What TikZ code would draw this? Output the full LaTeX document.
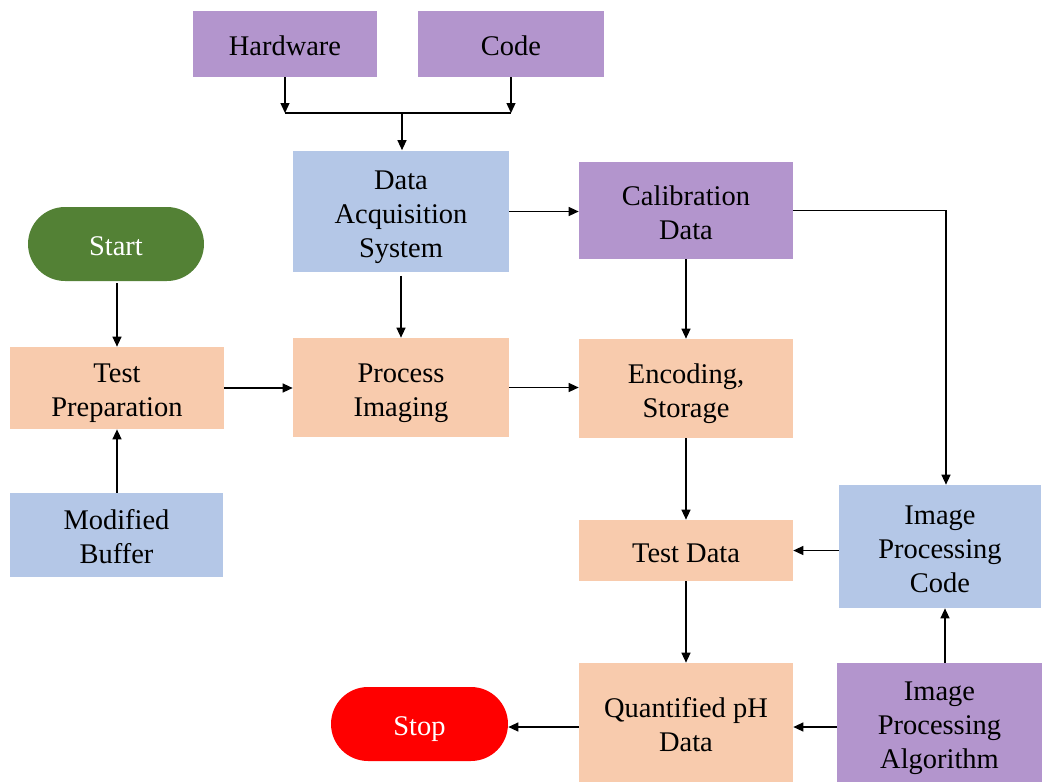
\documentclass[tikz,border=0pt]{standalone}
\usepackage{fontspec}
\setmainfont{Liberation Serif}
\usetikzlibrary{arrows.meta,calc}
\definecolor{boxpurple}{RGB}{179,149,205}
\definecolor{boxblue}{RGB}{180,199,231}
\definecolor{boxorange}{RGB}{248,203,173}
\definecolor{startgreen}{RGB}{83,129,53}
\definecolor{stopred}{RGB}{255,0,0}
% struts giving every label the same ascent and descent
\newcommand\boxtext[1]{\rule{0pt}{17.4pt}#1\rule[-4pt]{0pt}{4pt}}
\tikzset{
  base/.style={rectangle, inner sep=0pt, align=center, text=black,
    font=\fontsize{16.2}{19.3}\selectfont},
  purplebox/.style={base, fill=boxpurple},
  bluebox/.style={base, fill=boxblue},
  orangebox/.style={base, fill=boxorange},
  terminal/.style={base, rounded corners=0.74cm, text=white},
  arr/.style={draw=black, line width=0.75pt,
    -{Triangle[length=0.2cm,width=0.18cm]}},
  ln/.style={draw=black, line width=0.75pt}
}
\begin{document}
\begin{tikzpicture}[x=0.02cm,y=-0.02cm]
\useasboundingbox (0,0) rectangle (1042,782);

% inputs to the acquisition system
\node[purplebox, minimum width=3.68cm, minimum height=1.32cm] (hw) at (285,44) {\boxtext{Hardware}};
\node[purplebox, minimum width=3.72cm, minimum height=1.32cm] (code) at (511,44) {\boxtext{Code}};
\node[bluebox, minimum width=4.32cm, minimum height=2.44cm] (das) at (401,211.5) {\boxtext{Data\\Acquisition\\System}};

% left column
\node[terminal, fill=startgreen, minimum width=3.52cm, minimum height=1.48cm] (start) at (116,244) {\boxtext{Start}};
\node[orangebox, minimum width=4.28cm, minimum height=1.64cm] (tp) at (117,388) {\boxtext{Test\\Preparation}};
\node[bluebox, minimum width=4.26cm, minimum height=1.68cm] (mb) at (116.5,535) {\boxtext{Modified\\Buffer}};

% middle column
\node[orangebox, minimum width=4.32cm, minimum height=1.98cm] (pi) at (401,387.5) {\boxtext{Process\\Imaging}};
\node[terminal, fill=stopred, minimum width=3.54cm, minimum height=1.48cm] (stop) at (419.5,724) {\boxtext{Stop}};

% data column
\node[purplebox, minimum width=4.28cm, minimum height=1.94cm] (cal) at (686,210.5) {\boxtext{Calibration\\Data}};
\node[orangebox, minimum width=4.28cm, minimum height=1.98cm] (enc) at (686,388.5) {\boxtext{Encoding,\\Storage}};
\node[orangebox, minimum width=4.28cm, minimum height=1.22cm] (td) at (686,550.5) {\boxtext{Test Data}};
\node[orangebox, minimum width=4.28cm, minimum height=2.38cm] (qph) at (686,722.5) {\boxtext{Quantified pH\\Data}};

% image processing column
\node[bluebox, minimum width=4.04cm, minimum height=2.46cm] (ipc) at (940,546.5) {\boxtext{Image\\Processing\\Code}};
\node[purplebox, minimum width=4.10cm, minimum height=2.38cm] (ipa) at (939.5,722.5) {\boxtext{Image\\Processing\\Algorithm}};

% merge of hardware and code
\coordinate (jn) at (402,113);
\draw[arr] (hw.south) -- (hw.south |- jn);
\draw[arr] (code.south) -- (code.south |- jn);
\draw[ln] (hw.south |- jn) -- (code.south |- jn);
\draw[arr] (jn) -- (jn |- das.north);

% main flow
\draw[arr] ([yshift=-2*0.02cm]start.south -| tp.north) -- (tp.north);
\draw[arr] (mb.north -| tp.south) -- (tp.south);
\draw[arr] (tp.east) -- (pi.west |- tp.east);
\draw[arr] ([yshift=-3*0.02cm]das.south) -- (pi.north);
\draw[arr] (das.east) -- (cal.west |- das.east);
\draw[arr] (pi.east) -- (enc.west |- pi.east);
\draw[arr] (cal.south) -- (enc.north);
\draw[arr] (enc.south) -- (td.north);
\draw[arr] (td.south) -- (qph.north);
\draw[arr] (qph.west |- 0,727) -- (stop.east |- 0,727);

% image processing branch
\coordinate (cx) at (946,0);
\draw[arr] (cal.east) -| (cx |- ipc.north);
\draw[arr] (ipc.west |- td.east) -- (td.east);
\draw[arr] (ipa.north -| 945,0) -- (ipc.south -| 945,0);
\draw[arr] (ipa.west |- 0,727) -- (qph.east |- 0,727);
\end{tikzpicture}
\end{document}
